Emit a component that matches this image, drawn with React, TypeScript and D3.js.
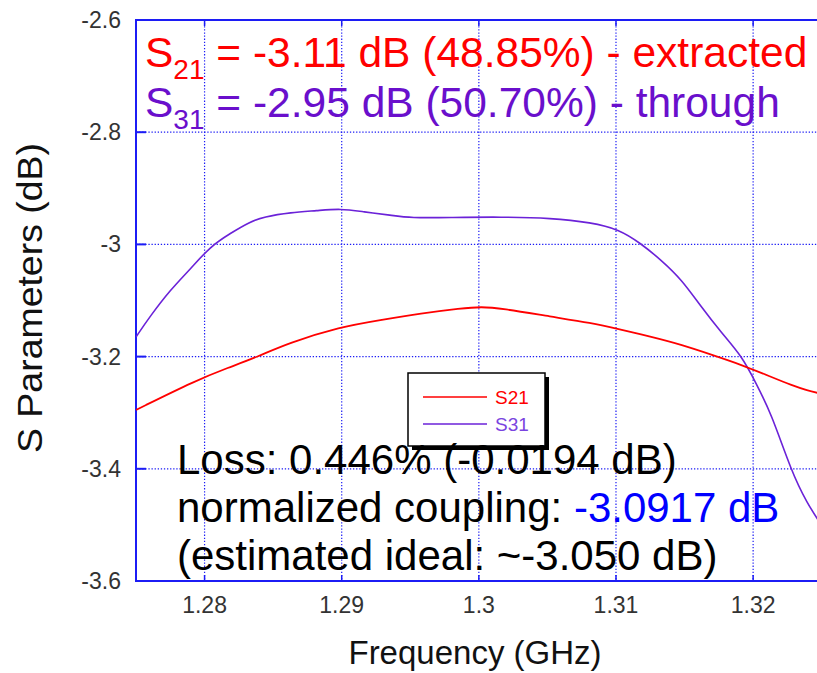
import React from "react";
import * as d3 from "d3";

const xTicks = [1.28, 1.29, 1.3, 1.31, 1.32];
const yTicks = [-2.6, -2.8, -3, -3.2, -3.4, -3.6];
const xTickLabels = ["1.28", "1.29", "1.3", "1.31", "1.32"];
const yTickLabels = ["-2.6", "-2.8", "-3", "-3.2", "-3.4", "-3.6"];

const freqS31 = [1.275, 1.276, 1.2775, 1.279, 1.2804, 1.2819, 1.2833, 1.2843, 1.2863, 1.2882, 1.2899, 1.2916, 1.2936, 1.295, 1.298, 1.3016, 1.3053, 1.3082, 1.3102, 1.3118, 1.3133, 1.3148, 1.3162, 1.3177, 1.3192, 1.3202, 1.3213, 1.3228, 1.3239, 1.3251];
const s31 = [-3.165, -3.129, -3.081, -3.043, -3.004, -2.98, -2.96, -2.951, -2.943, -2.94, -2.936, -2.942, -2.948, -2.953, -2.952, -2.951, -2.953, -2.961, -2.973, -2.998, -3.028, -3.063, -3.111, -3.158, -3.2, -3.247, -3.30, -3.405, -3.46, -3.505];

const freqS21 = [1.275, 1.2794, 1.2817, 1.2839, 1.2861, 1.2899, 1.2928, 1.2958, 1.2987, 1.3002, 1.3016, 1.3053, 1.3082, 1.3102, 1.3126, 1.3148, 1.317, 1.3192, 1.3213, 1.3228, 1.3239, 1.3251];
const s21 = [-3.295, -3.242, -3.22, -3.2, -3.176, -3.147, -3.135, -3.123, -3.114, -3.111, -3.114, -3.129, -3.14, -3.151, -3.165, -3.179, -3.197, -3.215, -3.236, -3.251, -3.26, -3.267];

const seriesNames = ["S21", "S31"];

const W = 817, H = 673;
const left = 136, top = 20, right = 821.7, bottom = 581;
const FONT = "'Liberation Sans', Arial, sans-serif";
const RED = "#ff0000";
const PURPLE_LINE = "#6b22d8";
const PURPLE_TEXT = "#6a0fcc";
const BLUE = "#1c1cf5";

export default function App() {
  const x = d3.scaleLinear().domain([1.275, 1.325]).range([left, right]);
  const y = d3.scaleLinear().domain([-2.6, -3.6]).range([top, bottom]);
  const line = d3.line<number>().curve(d3.curveBasis);
  const path31 = line(freqS31.map((f, i) => [x(f), y(s31[i])]) as any);
  const path21 = line(freqS21.map((f, i) => [x(f), y(s21[i])]) as any);

  return (
    <svg width={W} height={H} style={{ position: "absolute", left: 0, top: 0, background: "#fff" }} fontFamily={FONT}>
      <defs>
        <clipPath id="plot">
          <rect x={left} y={top} width={right - left} height={bottom - top} />
        </clipPath>
      </defs>
      {/* grid */}
      {xTicks.map((t) => (
        <line key={"gx" + t} x1={x(t)} x2={x(t)} y1={top} y2={bottom} stroke={BLUE} strokeWidth={1.2} strokeDasharray="1.3,1.8" />
      ))}
      {yTicks.slice(1, -1).map((t) => (
        <line key={"gy" + t} x1={left} x2={right} y1={y(t)} y2={y(t)} stroke={BLUE} strokeWidth={1.2} strokeDasharray="1.3,1.8" />
      ))}
      {/* ticks */}
      {xTicks.map((t) => (
        <g key={"tx" + t}>
          <line x1={x(t)} x2={x(t)} y1={bottom} y2={bottom - 6} stroke={BLUE} strokeWidth={1.5} />
          <line x1={x(t)} x2={x(t)} y1={top} y2={top + 6} stroke={BLUE} strokeWidth={1.5} />
        </g>
      ))}
      {yTicks.map((t) => (
        <line key={"ty" + t} x1={left} x2={left + 10} y1={y(t)} y2={y(t)} stroke={BLUE} strokeWidth={2} />
      ))}
      {/* frame */}
      <rect x={left} y={top} width={right - left} height={bottom - top} fill="none" stroke={BLUE} strokeWidth={2} />

      {/* curves */}
      <g clipPath="url(#plot)">
        <path d={path31 || ""} fill="none" stroke={PURPLE_LINE} strokeWidth={1.6} />
        <path d={path21 || ""} fill="none" stroke={RED} strokeWidth={1.8} />
      </g>

      {/* tick labels */}
      {xTicks.map((t, i) => (
        <text key={"lx" + t} x={x(t)} y={613} textAnchor="middle" fontSize={23} fill="#333">{xTickLabels[i]}</text>
      ))}
      {yTicks.map((t, i) => (
        <text key={"ly" + t} x={121} y={y(t) + 8} textAnchor="end" fontSize={23} fill="#333">{yTickLabels[i]}</text>
      ))}
      {/* axis titles */}
      <text x={475} y={664} textAnchor="middle" fontSize={33} fill="#111">Frequency (GHz)</text>
      <text transform={`translate(42,298) rotate(-90)`} textAnchor="middle" fontSize={35} fill="#111" textLength={310} lengthAdjust="spacingAndGlyphs">S Parameters (dB)</text>

      {/* legend */}
      <rect x={412} y={377} width={137} height={73} fill="#000" />
      <rect x={408} y={373} width={137} height={73} fill="#fff" stroke="#000" strokeWidth={1.5} />
      <line x1={423} x2={487} y1={397} y2={397} stroke={RED} strokeWidth={1.5} />
      <text x={495} y={404} fontSize={19} fill={RED}>{seriesNames[0]}</text>
      <line x1={423} x2={487} y1={424} y2={424} stroke={PURPLE_LINE} strokeWidth={1.5} />
      <text x={495} y={431} fontSize={19} fill="#7a44e0">{seriesNames[1]}</text>

      {/* top annotations */}
      <text x={145} y={67} fontSize={42.5} fill={RED}>
        S<tspan fontSize={28} dy={12}>21</tspan><tspan dy={-12}> = -3.11 dB (48.85%) - extracted</tspan>
      </text>
      <text x={145} y={117} fontSize={42.5} fill={PURPLE_TEXT}>
        S<tspan fontSize={28} dy={12}>31</tspan><tspan dy={-12}> = -2.95 dB (50.70%) - through</tspan>
      </text>

      {/* bottom annotations */}
      <text x={177} y={474} fontSize={42} fill="#000">Loss: 0.446% (-0.0194 dB)</text>
      <text x={177} y={522} fontSize={42} fill="#000">
        normalized coupling: <tspan fill="#0000ff">-3.0917 dB</tspan>
      </text>
      <text x={177} y={570} fontSize={42} fill="#000">(estimated ideal: ~-3.050 dB)</text>
    </svg>
  );
}
